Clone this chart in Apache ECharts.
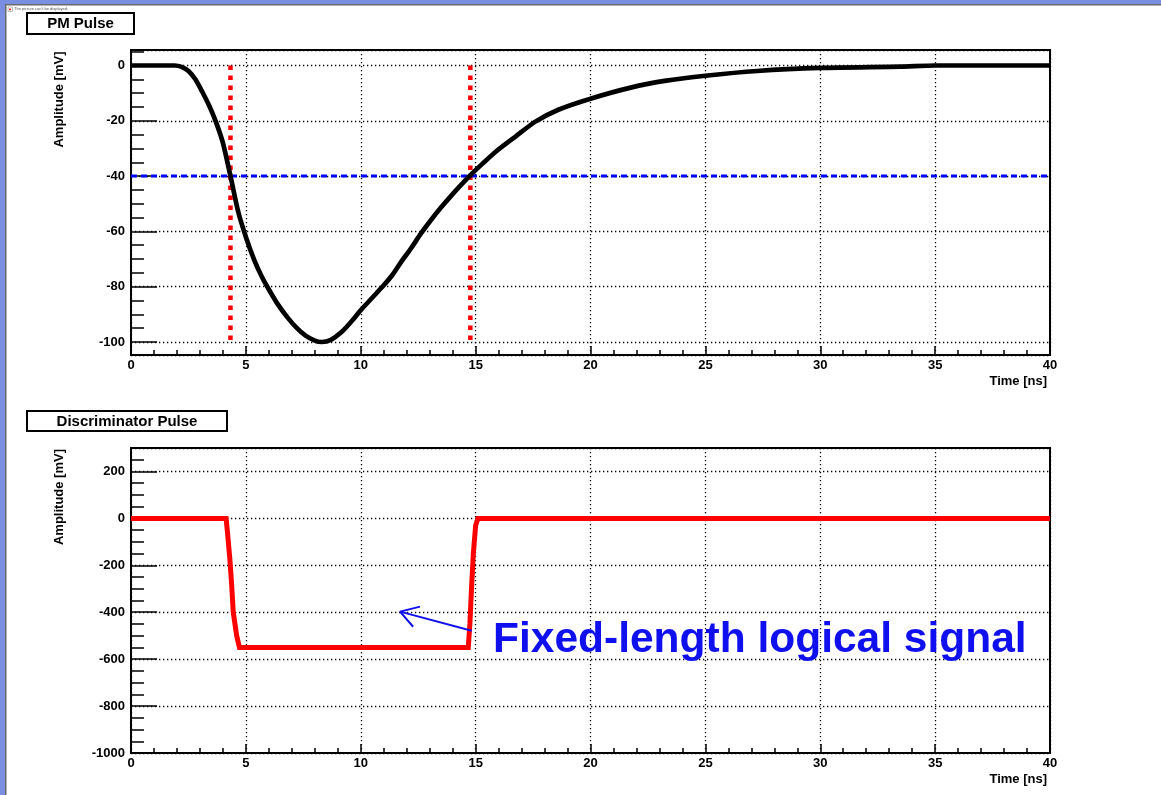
<!DOCTYPE html>
<html><head><meta charset="utf-8">
<script src="https://cdn.jsdelivr.net/npm/echarts@6.0.0/dist/echarts.min.js"></script>
<style>html,body{margin:0;padding:0;background:#fff}#c{width:1161px;height:795px}</style>
</head><body><div id="c"></div>
<script>
// ---- data ----
const pmTime = [0, 1, 1.9, 2.2, 2.5, 2.8, 3.1, 3.4, 3.7, 4.0, 4.33, 4.67, 5.0, 5.37, 5.7, 6.0, 6.4, 6.8, 7.2, 7.6, 8.0, 8.3, 8.7, 9.15, 9.6, 10.0, 10.5, 11.0, 11.4, 11.76, 12.2, 12.6, 13.0, 13.5, 14.0, 14.5, 14.77, 15.3, 15.9, 16.75, 17.6, 18.6, 20, 21.75, 23.3, 25, 27.25, 30, 33.5, 35, 40];
const pmAmp  = [0, 0, 0, -0.5, -2, -5, -9.5, -14.5, -20.5, -28, -40, -53, -62, -70.5, -76.5, -81, -86.5, -91, -94.8, -97.7, -99.5, -100, -99.2, -96.5, -92.5, -88.5, -84, -79.5, -75.5, -71, -66, -61, -56.5, -51.3, -46.5, -42, -39.7, -35.5, -31, -25.6, -20.3, -16, -12, -8, -5.5, -3.7, -2, -0.9, -0.4, 0, 0];
const discTime = [0, 4.14, 4.2, 4.3, 4.38, 4.45, 4.6, 4.72, 14.68, 14.75, 14.82, 14.9, 15.0, 15.1, 40];
const discAmp  = [0, 0, -60, -170, -280, -400, -500, -550, -550, -450, -300, -150, -30, 0, 0];
const threshold = -40;
const crossTimes = [4.33, 14.77];
const crossSpan = [0, -100];
const xRange = [0, 40];
const xStep = 5;
const xMinorSplit = 5;
const pmYRange = [-104.7, 5.6];
const pmYStep = 20;
const pmYMinorStep = 5;
const discYRange = [-1000, 300];
const discYStep = 200;
const discYMinorStep = 50;
const arrowX = [14.83, 11.71];
const arrowY = [-478.6, -397.5];
const headX = [12.58, 11.71, 12.28];
const headY = [-376, -397.5, -462];
const titles = ['PM Pulse', 'Discriminator Pulse'];
const xName = 'Time [ns]';
const yName = 'Amplitude [mV]';
const noteText = 'Fixed-length logical signal';

// ---- chart ----
const FONT = '"Liberation Sans", Arial, Helvetica, sans-serif';
const zip = (a, b) => a.map((v, i) => [v, b[i]]);
const plainNum = v => String(Math.round(v * 1000) / 1000);
const GRID_LINE = { color: '#000', width: 1.3, type: [1.3, 2.7] };

function xAxisFor(gi) {
  return {
    type: 'value', gridIndex: gi, min: xRange[0], max: xRange[1], interval: xStep,
    axisLine: { show: true, onZero: false, lineStyle: { color: '#000', width: 2 } },
    axisTick: { show: true, inside: true, length: 9, lineStyle: { color: '#000', width: 1.5 } },
    minorTick: { show: true, splitNumber: xMinorSplit, length: 5, lineStyle: { color: '#000', width: 1.5 } },
    axisLabel: { color: '#000', fontFamily: FONT, fontWeight: 'bold', fontSize: 13, margin: 4, formatter: plainNum },
    splitLine: { show: true, lineStyle: GRID_LINE },
    name: xName, nameLocation: 'end', nameGap: 0,
    nameTextStyle: { color: '#000', fontFamily: FONT, fontWeight: 'bold', fontSize: 13, align: 'right', verticalAlign: 'top', padding: [20, 3, 0, 0] }
  };
}
function yMajor(gi, range, step, showMin) {
  return {
    type: 'value', gridIndex: gi, position: 'left', offset: 0, min: range[0], max: range[1],
    splitNumber: Math.round((range[1] - range[0]) / step), minInterval: step, maxInterval: step,
    axisLine: { show: true, onZero: false, lineStyle: { color: '#000', width: 2 } },
    axisTick: { show: true, inside: true, length: 26, lineStyle: { color: '#000', width: 1.5 } },
    axisLabel: { color: '#000', fontFamily: FONT, fontWeight: 'bold', fontSize: 13, margin: 6, showMinLabel: showMin, showMaxLabel: false, formatter: plainNum },
    splitLine: { show: true, lineStyle: GRID_LINE }
  };
}
function yMinor(gi, range, step) {
  return {
    type: 'value', gridIndex: gi, position: 'left', offset: 0, min: range[0], max: range[1],
    splitNumber: Math.round((range[1] - range[0]) / step), minInterval: step, maxInterval: step,
    axisLine: { show: false }, axisLabel: { show: false }, splitLine: { show: false },
    axisTick: { show: true, inside: true, length: 13, lineStyle: { color: '#000', width: 1.5 } }
  };
}
const gridBase = { left: 131, width: 919, height: 305, show: true, borderColor: '#000', borderWidth: 2, backgroundColor: 'transparent', containLabel: false, outerBoundsMode: 'none' };

const titleBox = (x, y, w, h, text) => ({
  type: 'group', children: [
    { type: 'rect', shape: { x: x, y: y, width: w, height: h }, style: { fill: '#fff', stroke: '#000', lineWidth: 2 } },
    { type: 'text', x: x + w / 2, y: y + h / 2 + 0.5, style: { text: text, font: 'bold 15px ' + FONT, fill: '#000', align: 'center', verticalAlign: 'middle' } }
  ]
});
const yNameText = (x, y) => ({ type: 'text', x: x, y: y, rotation: Math.PI / 2, style: { text: yName, font: 'bold 13px ' + FONT, fill: '#000', align: 'right', verticalAlign: 'middle' } });

const option = {
  animation: false,
  backgroundColor: '#fff',
  grid: [Object.assign({ top: 50 }, gridBase), Object.assign({ top: 448 }, gridBase)],
  xAxis: [xAxisFor(0), xAxisFor(1)],
  yAxis: [yMajor(0, pmYRange, pmYStep, false), yMinor(0, pmYRange, pmYMinorStep),
          yMajor(1, discYRange, discYStep, true), yMinor(1, discYRange, discYMinorStep)],
  series: [
    { type: 'line', xAxisIndex: 0, yAxisIndex: 0, data: [[crossTimes[0], crossSpan[0]], [crossTimes[0], crossSpan[1]]], showSymbol: false, lineStyle: { color: '#ff0000', width: 4.5, type: [4.5, 5.5], cap: 'butt' }, z: 3 },
    { type: 'line', xAxisIndex: 0, yAxisIndex: 0, data: [[crossTimes[1], crossSpan[0]], [crossTimes[1], crossSpan[1]]], showSymbol: false, lineStyle: { color: '#ff0000', width: 4.5, type: [4.5, 5.5], cap: 'butt' }, z: 3 },
    { type: 'line', xAxisIndex: 0, yAxisIndex: 0, data: [[xRange[0], threshold], [xRange[1], threshold]], showSymbol: false, lineStyle: { color: '#0000ff', width: 3, type: [6, 4] }, z: 3 },
    { type: 'line', xAxisIndex: 0, yAxisIndex: 0, data: zip(pmTime, pmAmp), showSymbol: false, smooth: 0.25, lineStyle: { color: '#000', width: 4.7 }, z: 4 },
    { type: 'line', xAxisIndex: 1, yAxisIndex: 2, data: zip(discTime, discAmp), showSymbol: false, lineStyle: { color: '#ff0000', width: 5, join: 'miter' }, z: 4 },
    { type: 'line', xAxisIndex: 1, yAxisIndex: 2, data: zip(arrowX, arrowY), showSymbol: false, lineStyle: { color: '#1010ee', width: 2 }, z: 5 },
    { type: 'line', xAxisIndex: 1, yAxisIndex: 2, data: zip(headX, headY), showSymbol: false, lineStyle: { color: '#1010ee', width: 2 }, z: 5 }
  ],
  graphic: [
    { type: 'rect', shape: { x: 0, y: 0, width: 1161, height: 4 }, style: { fill: '#7b8fe2' }, z: 100 },
    { type: 'rect', shape: { x: 0, y: 4, width: 1161, height: 1.5 }, style: { fill: '#6a6a6a' }, z: 100 },
    { type: 'rect', shape: { x: 0, y: 0, width: 5, height: 795 }, style: { fill: '#7b8fe2' }, z: 101 },
    { type: 'rect', shape: { x: 5, y: 5, width: 1.5, height: 790 }, style: { fill: '#6a6a6a' }, z: 101 },
    { type: 'rect', shape: { x: 8, y: 7, width: 4.5, height: 4.5 }, style: { fill: '#fff', stroke: '#999', lineWidth: 0.6 }, z: 100 },
    { type: 'rect', shape: { x: 9, y: 8.5, width: 1.8, height: 1.8 }, style: { fill: '#ff0000' }, z: 101 },
    { type: 'text', x: 14, y: 9, style: { text: "The picture can't be displayed.", font: '4px ' + FONT, fill: '#555', verticalAlign: 'middle' }, z: 100 },
    titleBox(27, 13, 107, 21, titles[0]),
    titleBox(27, 411, 200, 20, titles[1]),
    yNameText(59, 51.5),
    yNameText(59, 449),
    { type: 'text', x: 493, y: 619, style: { text: noteText, font: 'bold 42.5px ' + FONT, fill: '#1010ee', align: 'left', verticalAlign: 'top' }, z: 100 }
  ]
};
const chart = echarts.init(document.getElementById('c'), null, { renderer: 'canvas' });
chart.setOption(option);
</script></body></html>
